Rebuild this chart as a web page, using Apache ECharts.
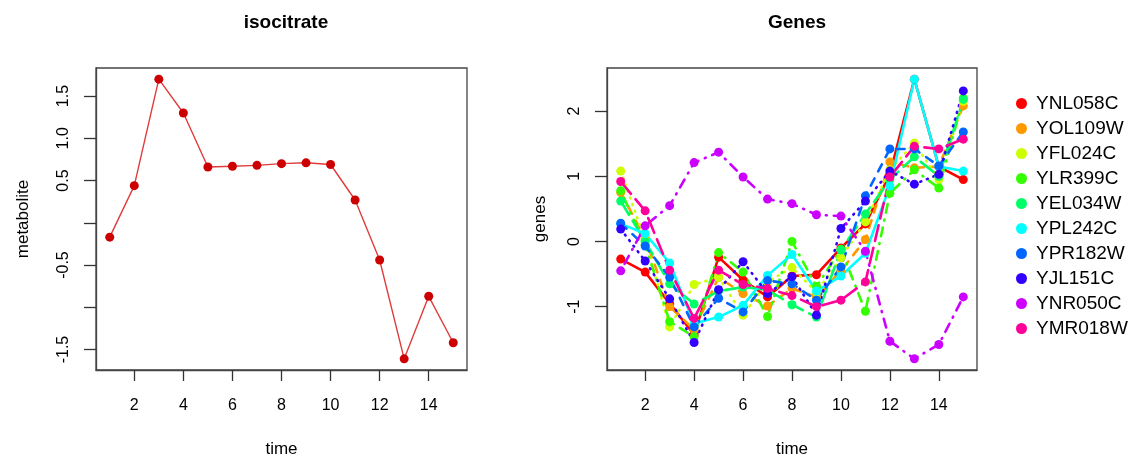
<!DOCTYPE html>
<html>
<head>
<meta charset="utf-8">
<script src="https://cdn.jsdelivr.net/npm/echarts@6/dist/echarts.min.js"></script>
<style>
html,body{margin:0;padding:0;background:#fff;}
#chart{width:1144px;height:457px;}
</style>
</head>
<body>
<div id="chart"></div>
<script>
// ---- data ----
const timePoints = [1, 2, 3, 4, 5, 6, 7, 8, 9, 10, 11, 12, 13, 14, 15];
const isocitrate = [-0.17, 0.44, 1.70, 1.30, 0.66, 0.67, 0.68, 0.70, 0.71, 0.69, 0.27, -0.44, -1.61, -0.87, -1.42];

const geneNames = ['YNL058C', 'YOL109W', 'YFL024C', 'YLR399C', 'YEL034W', 'YPL242C', 'YPR182W', 'YJL151C', 'YNR050C', 'YMR018W'];
const YNL058C = [-0.27, -0.47, -0.95, -1.43, -0.24, -0.59, -0.85, -0.53, -0.51, -0.10, 0.27, 1.03, 2.49, 1.15, 0.95];
const YOL109W = [0.75, 0.05, -1.00, -1.35, -0.55, -0.80, -0.99, -0.72, -0.85, -0.45, 0.03, 1.22, 1.13, 1.15, 2.08];
const YFL024C = [1.08, 0.02, -1.31, -0.66, -0.55, -1.13, -0.62, -0.40, -0.78, -0.25, 0.30, 1.10, 1.51, 0.95, 2.15];
const YLR399C = [0.78, -0.05, -1.23, -1.46, -0.17, -0.47, -1.15, 0.00, -0.69, -0.12, -1.07, 0.74, 1.10, 0.82, 2.20];
const YEL034W = [0.62, 0.00, -0.65, -0.96, -0.76, -0.70, -0.74, -0.97, -1.16, -0.13, 0.42, 0.95, 1.30, 1.00, 2.18];
const YPL242C = [0.27, 0.12, -0.33, -1.26, -1.16, -0.98, -0.52, -0.20, -0.76, -0.53, -0.18, 0.85, 2.49, 1.15, 1.08];
const YPR182W = [0.28, -0.07, -0.55, -1.31, -0.87, -1.08, -0.60, -0.65, -0.90, -0.39, 0.70, 1.42, 1.42, 1.16, 1.68];
const YJL151C = [0.19, -0.30, -0.88, -1.55, -0.74, -0.31, -0.80, -0.54, -1.13, 0.20, 0.62, 1.08, 0.88, 1.03, 2.31];
const YNR050C = [-0.45, 0.24, 0.55, 1.21, 1.37, 0.99, 0.65, 0.58, 0.41, 0.39, -0.15, -1.53, -1.80, -1.58, -0.85];
const YMR018W = [0.92, 0.47, -0.44, -1.18, -0.44, -0.66, -0.72, -0.83, -1.00, -0.90, -0.62, 0.99, 1.46, 1.42, 1.57];
const geneValues = [YNL058C, YOL109W, YFL024C, YLR399C, YEL034W, YPL242C, YPR182W, YJL151C, YNR050C, YMR018W];

const xTicks = [2, 4, 6, 8, 10, 12, 14];
const leftYTicks = [-1.5, -1, -0.5, 0, 0.5, 1, 1.5];
const leftYLabels = [-1.5, -0.5, 0.5, 1, 1.5];
const rightYTicks = [-1, 0, 1, 2];

// ---- style ----
const colors = ['#FF0000', '#FF9900', '#CCFF00', '#33FF00', '#00FF66', '#00FFFF', '#0066FF', '#3300FF', '#CC00FF', '#FF0099'];
const dashes = ['solid', [8, 8], [1, 6], [1, 7, 9, 7], [16, 7]];
const FONT = 'Liberation Sans, Arial, Helvetica, sans-serif';

function rng(arrs) {
  let mn = Infinity, mx = -Infinity;
  arrs.forEach(a => a.forEach(v => { mn = Math.min(mn, v); mx = Math.max(mx, v); }));
  const d = (mx - mn) * 0.04;
  return [mn - d, mx + d];
}
const xr = rng([timePoints]);
const lr = rng([isocitrate]);
const rr = rng(geneValues);

function xAxisCfg(gi) {
  return {
    type: 'value', gridIndex: gi, min: xr[0], max: xr[1], position: 'bottom',
    name: 'time', nameLocation: 'middle', nameGap: 71,
    nameTextStyle: {fontSize: 17, color: '#000', fontFamily: FONT},
    axisLine: {show: true, onZero: false, lineStyle: {color: '#444', width: 1.3}},
    splitLine: {show: false},
    axisTick: {show: true, inside: false, length: 11, customValues: xTicks, lineStyle: {color: '#333', width: 1.3}},
    axisLabel: {customValues: xTicks, fontSize: 16, color: '#000', margin: 28, fontFamily: FONT}
  };
}
function yAxisCfg(gi, r, ticks, labels, name, gap, fmt) {
  return {
    type: 'value', gridIndex: gi, min: r[0], max: r[1], position: 'left',
    name: name, nameLocation: 'middle', nameGap: gap,
    nameTextStyle: {fontSize: 17, color: '#000', fontFamily: FONT},
    axisLine: {show: true, onZero: false, lineStyle: {color: '#444', width: 1.3}},
    splitLine: {show: false},
    axisTick: {show: true, inside: false, length: 12, customValues: ticks, lineStyle: {color: '#333', width: 1.3}},
    axisLabel: {customValues: labels, rotate: 90, fontSize: 16, color: '#000', margin: 24, fontFamily: FONT,
      formatter: fmt}
  };
}

const series = [{
  type: 'line', xAxisIndex: 0, yAxisIndex: 0,
  data: timePoints.map((t, i) => [t, isocitrate[i]]),
  symbol: 'circle', symbolSize: 9,
  itemStyle: {color: '#CC0000'},
  lineStyle: {color: '#E03C3C', width: 1.4},
  silent: true
}];
geneNames.forEach((g, k) => {
  series.push({
    name: g, type: 'line', xAxisIndex: 1, yAxisIndex: 1,
    data: timePoints.map((t, i) => [t, geneValues[k][i]]),
    symbol: 'circle', symbolSize: 9,
    itemStyle: {color: colors[k]},
    lineStyle: {color: colors[k], width: 2.6, type: dashes[k % 5], cap: 'round'},
    silent: true
  });
});

const chart = echarts.init(document.getElementById('chart'), null, {renderer: 'canvas'});
chart.setOption({
  animation: false,
  backgroundColor: '#fff',
  textStyle: {fontFamily: FONT},
  title: [
    {text: 'isocitrate', left: 281, top: 8, textAlign: 'center', textStyle: {fontSize: 19, fontWeight: 'bold', color: '#000', fontFamily: FONT}},
    {text: 'Genes', left: 792, top: 8, textAlign: 'center', textStyle: {fontSize: 19, fontWeight: 'bold', color: '#000', fontFamily: FONT}}
  ],
  legend: {
    orient: 'vertical', left: 1011, top: 89,
    data: geneNames, icon: 'circle', itemWidth: 11, itemHeight: 11, itemGap: 6,
    textStyle: {fontSize: 19, lineHeight: 19, color: '#000', fontFamily: FONT, padding: [0, 0, 0, 4]},
    selectedMode: false
  },
  grid: [
    {left: 96, top: 68, width: 371, height: 302, outerBoundsMode: 'none', containLabel: false, show: true, borderColor: '#444', borderWidth: 1.3, backgroundColor: 'transparent'},
    {left: 607, top: 68, width: 370, height: 302, outerBoundsMode: 'none', containLabel: false, show: true, borderColor: '#444', borderWidth: 1.3, backgroundColor: 'transparent'}
  ],
  xAxis: [xAxisCfg(0), xAxisCfg(1)],
  yAxis: [
    yAxisCfg(0, lr, leftYTicks, leftYLabels, 'metabolite', 64, v => v.toFixed(1)),
    yAxisCfg(1, rr, rightYTicks, rightYTicks, 'genes', 58, v => String(Math.round(v)))
  ],
  series: series
});
</script>
</body>
</html>
